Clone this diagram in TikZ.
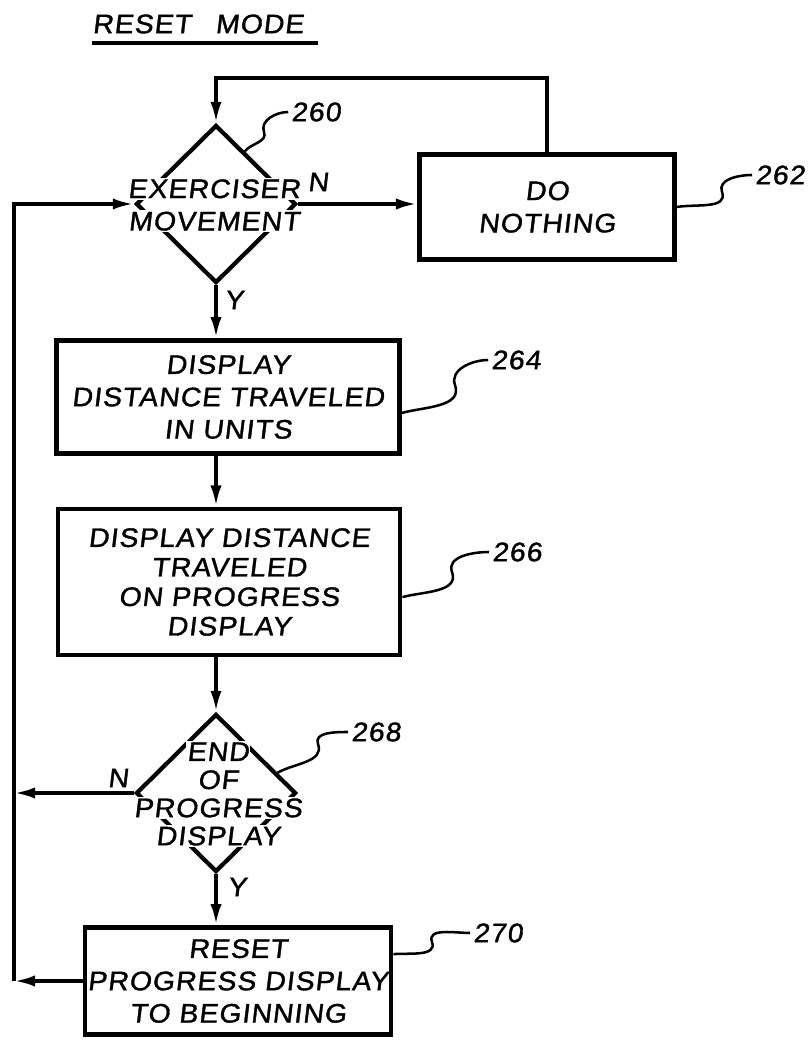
\documentclass[tikz,border=0pt]{standalone}
\usepackage{fontspec}
\usepackage{tikz}
\usetikzlibrary{positioning,calc}
\usetikzlibrary{arrows.meta,shapes.geometric}
\newfontfamily\lettering{Liberation Sans}[FakeSlant=0.12,FakeStretch=1.06,FakeBold=1.3,LetterSpace=4]
\newcommand{\cutout}[1]{\colorbox{white}{#1}}
\setlength{\fboxsep}{1pt}
\tikzset{
	txt/.style={font=\lettering\fontsize{19pt}{23pt}\selectfont,align=center,inner sep=0pt},
	block/.style={txt,rectangle,draw=black,line width=3.4pt},
	decision/.style={diamond,draw=black,line width=3pt,minimum width=4cm,minimum height=3.95cm,inner sep=0pt},
	flow/.style={draw=black,line width=2.6pt,-{Latex[length=15pt,width=8pt]}},
	wire/.style={draw=black,line width=2.6pt},
	lead/.style={draw=black,line width=1.8pt},
	ref/.style={txt,inner sep=2pt},
}
\begin{document}
\begin{tikzpicture}[x=0.025cm,y=0.025cm]
	\useasboundingbox (0,0) rectangle (811,1040);
	% title
	\node[txt] (title) at (198,1016) {RESET\hspace{0.9em}MODE};
	\draw[wire] ($(title.south west)+(0,-9)$) -- ($(title.south east)+(14,-9)$);
	% flow chart
	\node[decision] (d260) at (216,836) {};
	\node[txt] (t260) at (214,835) {\cutout{EXERCISER}\\\cutout{MOVEMENT}};
	\node[block,minimum width=6.375cm,minimum height=2.625cm] (b262) at (547,833) {DO\\NOTHING};
	\node[block,minimum width=8.575cm,minimum height=2.825cm] (b264) at (228,643) {DISPLAY\\DISTANCE TRAVELED\\IN UNITS};
	\node[block,minimum width=8.55cm,minimum height=3.65cm,font=\lettering\fontsize{19pt}{21pt}\selectfont] (b266) at (229,458) {DISPLAY DISTANCE\\TRAVELED\\ON PROGRESS\\DISPLAY};
	\node[decision] (d268) at (216,247) {};
	\node[txt,font=\lettering\fontsize{19pt}{20pt}\selectfont] (t268) at (218,246) {\cutout{END}\\\cutout{OF}\\\cutout{PROGRESS}\\\cutout{DISPLAY}};
	\node[block,minimum width=7.65cm,minimum height=2.675cm] (b270) at (238,59) {RESET\\PROGRESS DISPLAY\\TO BEGINNING};
	\coordinate (rail) at (14,836);
	\coordinate (looptop) at (380,962);
	% connectors
	\draw[flow] (b262.north) |- (looptop) -| (d260.north);
	\draw[flow] (d260.east) -- (d260.east -| b262.west);
	\draw[flow] (d260.south) -- (d260.south |- b264.north);
	\draw[flow] (b264.south -| d260.south) -- (b266.north -| d260.south);
	\draw[flow] (b266.south -| d268.north) -- (d268.north);
	\draw[flow] (d268.south) -- (d268.south |- b270.north);
	\draw[flow] (d268.west) -- (d268.west -| rail);
	\draw[flow] (b270.west) -- (b270.west -| rail);
	\draw[flow] (b270.west -| rail) -- (rail) -- (d260.west);
	% branch letters
	\node[txt] (n260) at (318,858) {N};
	\node[txt] (y260) at (234,740) {Y};
	\node[txt] (n268) at (118,262) {N};
	\node[txt] (y268) at (237,153) {Y};
	% reference numerals
	\node[ref] (r260) at (316,928) {260};
	\node[ref] (r262) at (780,865) {262};
	\node[ref] (r264) at (516,680) {264};
	\node[ref] (r266) at (517,488) {266};
	\node[ref] (r268) at (376,308) {268};
	\node[ref] (r270) at (498,107) {270};
	\draw[lead] ($(d260.north)!0.35!(d260.east)$) to[out=50,in=-70] (264,908) to[out=110,in=180] (r260.west);
	\draw[lead] (b262.east) to[out=10,in=-70] (722,848) to[out=110,in=180] (r262.west);
	\draw[lead] ($(b264.east)!0.27!(b264.south east)$) to[out=15,in=-70] (455,655) to[out=110,in=180] (r264.west);
	\draw[lead] ($(b266.east)!0.2!(b266.south east)$) to[out=15,in=-70] (452,468) to[out=110,in=180] (r266.west);
	\draw[lead] ($(d268.north)!0.75!(d268.east)$) to[out=30,in=-70] (318,296) to[out=110,in=180] (r268.west);
	\draw[lead] ($(b270.east)!0.48!(b270.north east)$) to[out=5,in=-70] (432,98) to[out=110,in=180] (r270.west);
\end{tikzpicture}
\end{document}
